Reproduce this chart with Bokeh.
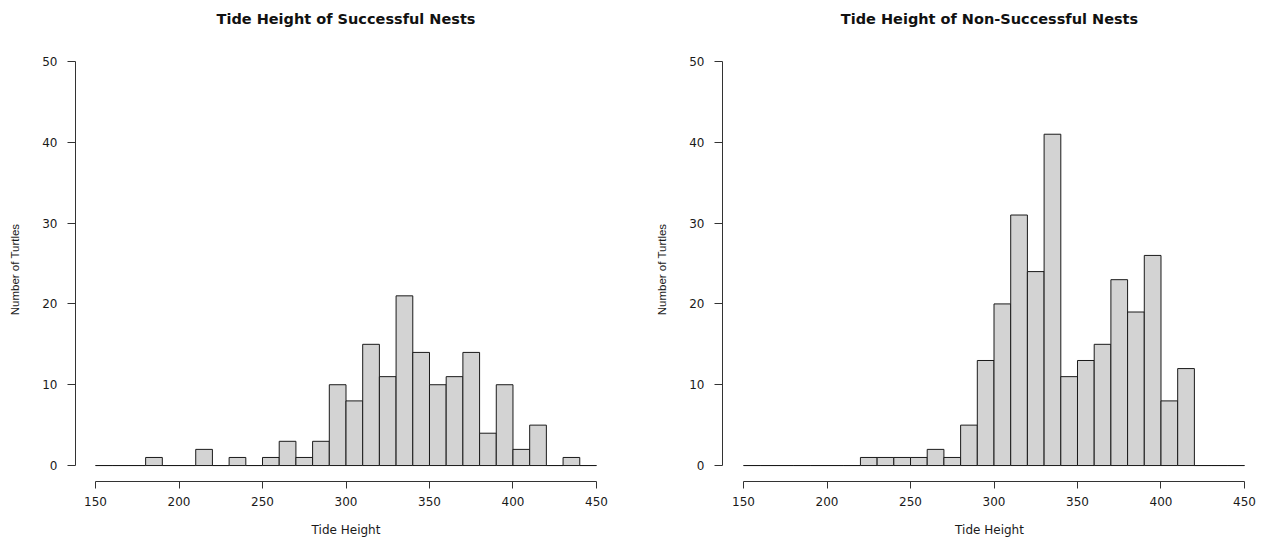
from bokeh.plotting import figure
from bokeh.layouts import row
from bokeh.models import Range1d, FixedTicker, ColumnDataSource, LinearAxis
from bokeh.embed import file_html
from bokeh.resources import INLINE

# ---- data ----
breaks = [150, 160, 170, 180, 190, 200, 210, 220, 230, 240, 250, 260, 270, 280, 290,
          300, 310, 320, 330, 340, 350, 360, 370, 380, 390, 400, 410, 420, 430, 440, 450]
successful_counts = [0, 0, 0, 1, 0, 0, 2, 0, 1, 0, 1, 3, 1, 3, 10,
                     8, 15, 11, 21, 14, 10, 11, 14, 4, 10, 2, 5, 0, 1, 0]
non_successful_counts = [0, 0, 0, 0, 0, 0, 0, 1, 1, 1, 1, 2, 1, 5, 13,
                         20, 31, 24, 41, 11, 13, 15, 23, 19, 26, 8, 12, 0, 0, 0]
x_ticks = [150, 200, 250, 300, 350, 400, 450]
y_ticks = [0, 10, 20, 30, 40, 50]
titles = ["Tide Height of Successful Nests", "Tide Height of Non-Successful Nests"]
x_label = "Tide Height"
y_label = "Number of Turtles"

INK = "#1a1a1a"


def make_hist(title, counts, width, mbl, mbr, xr):
    p = figure(width=width, height=539, output_backend="svg", toolbar_location=None,
               x_range=Range1d(xr[0], xr[1]), y_range=Range1d(-1.975, 50.494),
               min_border_left=mbl, min_border_right=mbr,
               min_border_top=57, min_border_bottom=57)
    src = ColumnDataSource(dict(left=breaks[:-1], right=breaks[1:], top=counts,
                                bottom=[0] * len(counts)))
    p.quad(left="left", right="right", top="top", bottom="bottom", source=src,
           fill_color="#d3d3d3", line_color=INK, line_width=1)

    # main title, drawn as the label of a bare axis above the plot
    top_ax = LinearAxis(ticker=FixedTicker(ticks=[]), axis_label=title,
                        axis_line_color=None, major_tick_line_color=None,
                        minor_tick_line_color=None, major_tick_out=0, major_tick_in=0,
                        major_label_text_font_size="0px",
                        axis_label_standoff=31,
                        axis_label_text_font="DejaVu Sans",
                        axis_label_text_font_style="bold",
                        axis_label_text_font_size="14.5px",
                        axis_label_text_color="#111111")
    p.add_layout(top_ax, "above")

    p.grid.visible = False
    p.outline_line_color = None
    p.background_fill_color = "white"
    p.border_fill_color = "white"

    xa = p.below[0]
    xa.ticker = FixedTicker(ticks=x_ticks)
    xa.bounds = (x_ticks[0], x_ticks[-1])
    xa.axis_label = x_label
    xa.axis_label_text_font = "DejaVu Sans"
    xa.axis_label_text_font_size = "12px"
    xa.axis_label_text_font_style = "normal"
    xa.axis_label_text_color = INK
    xa.axis_label_standoff = 14
    xa.major_label_standoff = 8

    ya = p.left[0]
    ya.ticker = FixedTicker(ticks=y_ticks)
    ya.bounds = (y_ticks[0], y_ticks[-1])
    ya.axis_label = y_label
    ya.axis_label_text_font = "Liberation Sans"
    ya.axis_label_text_font_size = "11.5px"
    ya.axis_label_text_font_style = "normal"
    ya.axis_label_text_color = INK
    ya.axis_label_standoff = 18
    ya.major_label_standoff = 10
    ya.major_label_orientation = "horizontal"

    for ax in (xa, ya):
        ax.axis_line_color = "#333333"
        ax.axis_line_width = 1
        ax.major_tick_line_color = "#333333"
        ax.major_tick_in = 0
        ax.major_tick_out = 7
        ax.minor_tick_line_color = None
        ax.major_label_text_font = "DejaVu Sans"
        ax.major_label_text_font_size = "12px"
        ax.major_label_text_color = INK
    ya.major_tick_out = 8
    return p


p1 = make_hist(titles[0], successful_counts, 647, 75, 31, (138.0, 462.0))
p2 = make_hist(titles[1], non_successful_counts, 611, 75, 2, (137.4, 457.2))

layout = row(p1, p2)
open("out.html", "w").write(file_html(layout, INLINE))
